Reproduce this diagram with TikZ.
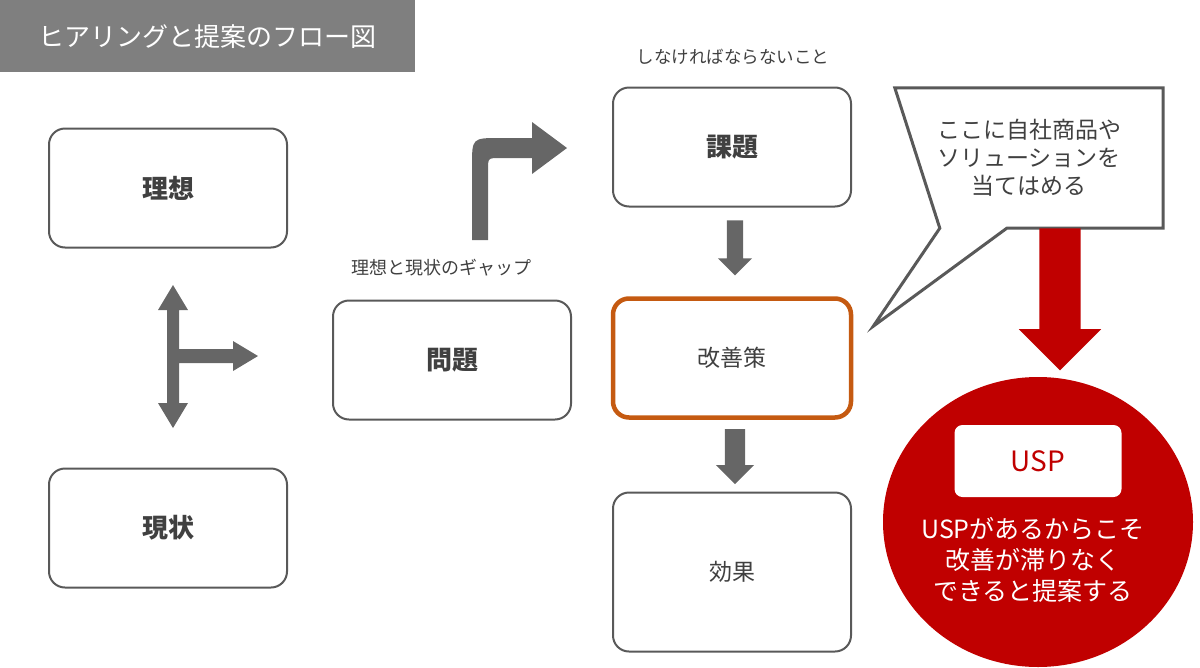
\documentclass[tikz,border=0pt]{standalone}
\usepackage{fontspec}
\setmainfont{Noto Sans CJK JP}
\usetikzlibrary{shapes.arrows,shapes.geometric,calc}
\definecolor{boxgray}{HTML}{595959}
\definecolor{textgray}{HTML}{404040}
\definecolor{titlegray}{HTML}{7F7F7F}
\definecolor{arrowgray}{HTML}{666666}
\definecolor{measureorange}{HTML}{C55A11}
\definecolor{uspred}{HTML}{C00000}
\begin{document}
\begin{tikzpicture}
            [x=1pt,y=-1pt,
             box/.style={draw=boxgray,line width=2pt,rounded corners=16pt,minimum width=238pt,minimum height=119pt,text=textgray,font=\fontsize{23}{28}\selectfont},
             boldbox/.style={box,font=\fontsize{26}{30}\selectfont\bfseries},
             note/.style={text=textgray,font=\fontsize{17.5}{20}\selectfont},
             downarrow/.style={single arrow,rotate=-90,fill=arrowgray,inner xsep=0pt,single arrow head extend=9pt}]
            \useasboundingbox (0,0) rectangle (1200,667);
            \node[fill=titlegray,minimum width=415pt,minimum height=72pt,anchor=north west,text=white,font=\fontsize{26}{30}\selectfont] (title) at (0,0) {ヒアリングと提案のフロー図};

            \node[boldbox] (ideal) at (168,188) {理想};
            \node[boldbox] (current) at (168,528) {現状};
            \node[boldbox] (problem) at (452,360) {問題};
            \node[boldbox] (issue) at (732,147) {課題};
            \node[box,draw=measureorange,line width=4.5pt] (measure) at (732,358) {改善策};
            \node[box,minimum height=159pt] (effect) at (732,572) {効果};

            \node[note,font=\fontsize{18}{20}\selectfont] (gap) at (441,268) {理想と現状のギャップ};
            \node[note] (must) at (733,57) {しなければならないこと};

            \fill[arrowgray] (173,285) -- (188,310) -- (179,310) -- (179,349) -- (233,349) -- (233,341) -- (258,356) -- (233,371) -- (233,363) -- (179,363) -- (179,403) -- (188,403) -- (173,428) -- (158,403) -- (167,403) -- (167,310) -- (158,310) -- cycle;
            \fill[arrowgray] (472,240) -- (472,166) .. controls (472,138) .. (500,138) -- (532,138) -- (532,122) -- (567,148) -- (532,174) -- (532,158) -- (500,158) .. controls (488,158) .. (488,170) -- (488,240) -- cycle;

            \node[downarrow,minimum height=55pt,inner ysep=8pt] (a1) at ($(issue.south)!0.5!(measure.north)+(3,-8)$) {};
            \node[downarrow,minimum height=55pt,inner ysep=10pt] (a2) at ($(measure.south)!0.5!(effect.north)+(3,-4)$) {};

            \node[minimum width=268pt,minimum height=140pt,text=textgray,align=center,font=\fontsize{23}{28}\selectfont] (callout) at (1029,158) {ここに自社商品や\\ソリューションを\\当てはめる};
            \coordinate (tip) at ($(measure.north east)+(20,30)$);
            \draw[boxgray,line width=3pt,line join=miter] (callout.north west) -- (callout.north east) -- (callout.south east) -- ($(callout.south west)+(112,0)$) -- (tip) -- ($(callout.south west)+(45,0)$) -- cycle;

            \node[ellipse,fill=uspred,minimum width=310pt,minimum height=290pt] (usp) at (1038,522) {};
            \node[single arrow,rotate=-90,fill=uspred,inner xsep=0pt,inner ysep=20.5pt,minimum height=142pt,single arrow head extend=20.5pt] (redarrow) at (1060,289) {};
            \node[fill=white,rounded corners=8pt,minimum width=167pt,minimum height=72pt,text=uspred,font=\fontsize{28}{32}\selectfont] (uspbox) at (1038,461) {USP};
            \node[text=white,align=center,font=\fontsize{25}{31}\selectfont] (usptext) at (1033,560) {USPがあるからこそ\\改善が滞りなく\\できると提案する};
        \end{tikzpicture}
\end{document}
